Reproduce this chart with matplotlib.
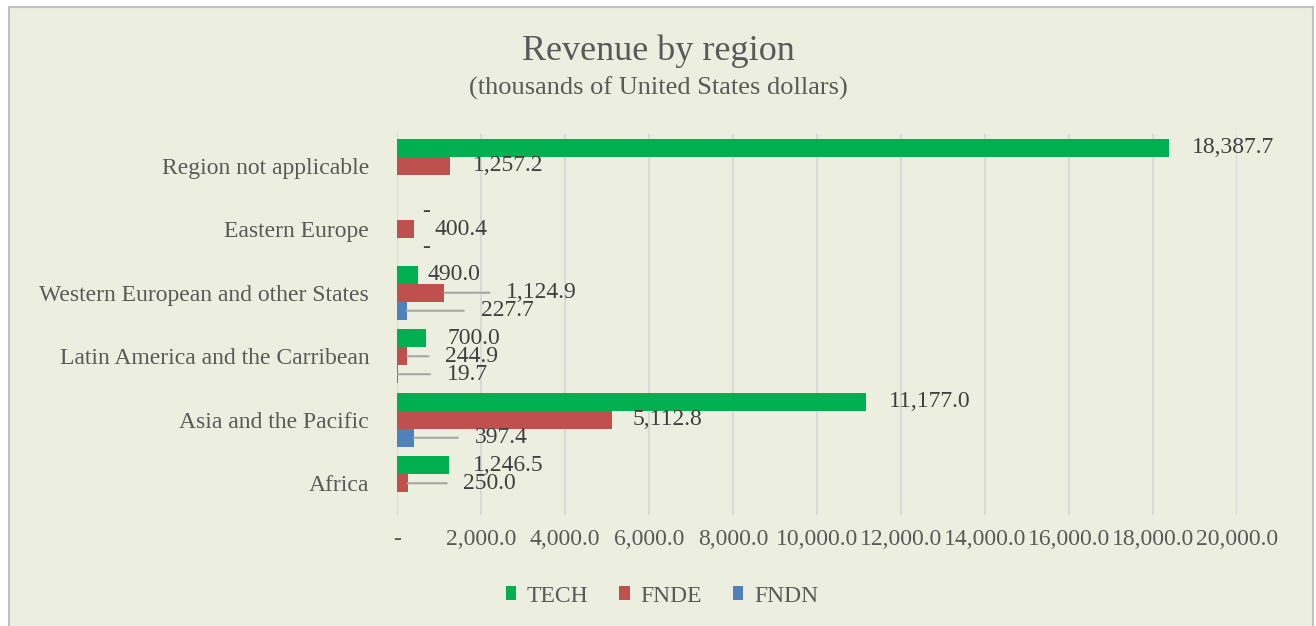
import matplotlib
matplotlib.use('Agg')

import matplotlib.pyplot as plt
import numpy as np
from matplotlib.patches import Rectangle, Patch

# -------------------
# Data
# -------------------
regions = ["Region not applicable", "Eastern Europe", "Western European and other States",
           "Latin America and the Carribean", "Asia and the Pacific", "Africa"]
tech = [18387.7, 0.0, 490.0, 700.0, 11177.0, 1246.5]
fnde = [1257.2, 400.4, 1124.9, 244.9, 5112.8, 250.0]
fndn = [None, 0.0, 227.7, 19.7, 397.4, None]   # None = no value shown
series_names = ["TECH", "FNDE", "FNDN"]
x_ticks = np.arange(0, 20001, 2000)

# -------------------
# Styling / layout
# -------------------
colors = ["#00B050", "#C0504D", "#4F81BD"]
bg = "#ECEFDF"
txt = "#595959"
lbl = "#404040"
FS = 17
plt.rcParams['font.family'] = ['Liberation Serif', 'DejaVu Serif']

# label distance (px) from bar end to label; Excel dragged some of them out
label_dx = [[23, 25, 10, 21, 22, 24],
            [23, 21, 62, 38, 21, 56],
            [0, 25, 74, 49, 61, 0]]
px = 72 / 100  # px -> points

fig = plt.figure(figsize=(13.16, 6.26), dpi=100, facecolor="white")
fig.patches.append(Rectangle((9 / 1316, -0.01), 1304 / 1316, 1 - 7 / 626 + 0.01,
                             transform=fig.transFigure, facecolor=bg,
                             edgecolor="#BFBFBF", linewidth=1.5, zorder=-10))

ax = fig.add_axes([397 / 1316, 1 - 515 / 626, 840 / 1316, 381 / 626])
ax.set_facecolor("none")

y = np.arange(len(regions))
h = 0.283
offsets = [-h, 0, h]

for k, (vals, c) in enumerate(zip([tech, fnde, fndn], colors)):
    for i, v in enumerate(vals):
        if v is None:
            continue
        yy = y[i] + offsets[k]
        ax.barh(yy, v, height=h, color=c, zorder=3)
        text = "-" if v == 0 else f"{v:,.1f}"
        dx = label_dx[k][i]
        arrow = None
        if dx > 30:
            arrow = dict(arrowstyle='-', color="#A6A6A6", lw=1.5,
                         relpos=(0, 0.5), shrinkA=14 * px, shrinkB=0)
        ax.annotate(text, xy=(v, yy), xytext=(dx * px, 0),
                    textcoords='offset points', ha='left', va='center',
                    fontsize=FS, color=lbl, arrowprops=arrow, zorder=4)

ax.set_ylim(len(regions) - 0.5, -0.5)
ax.set_xlim(0, 20000)
ax.set_yticks(y)
ax.set_yticklabels(regions, fontsize=FS, color=txt)
ax.set_xticks(x_ticks)
ax.set_xticklabels(["-" if t == 0 else f"{t:,.1f}" for t in x_ticks], fontsize=FS, color=txt)
ax.tick_params(axis='x', length=0, pad=10)
ax.tick_params(axis='y', length=0, pad=20)
ax.grid(axis='x', color="#D9D9D9", linewidth=1.5, zorder=0)
for s in ax.spines.values():
    s.set_visible(False)

fig.text(0.5, 1 - 51 / 626, "Revenue by region", ha='center', va='center',
         fontsize=26, color=txt)
fig.text(0.5, 1 - 88 / 626, "(thousands of United States dollars)", ha='center',
         va='center', fontsize=19, color=txt)

handles = [Patch(facecolor=c, edgecolor='none', label=n) for c, n in zip(colors, series_names)]
fig.legend(handles=handles, loc='center', bbox_to_anchor=(662 / 1316, 1 - 596 / 626),
           ncol=3, frameon=False, fontsize=FS, handlelength=0.45, handleheight=0.55,
           handletextpad=0.45, columnspacing=1.3, labelcolor=txt)

plt.savefig("out.png", dpi=100, facecolor=fig.get_facecolor())
